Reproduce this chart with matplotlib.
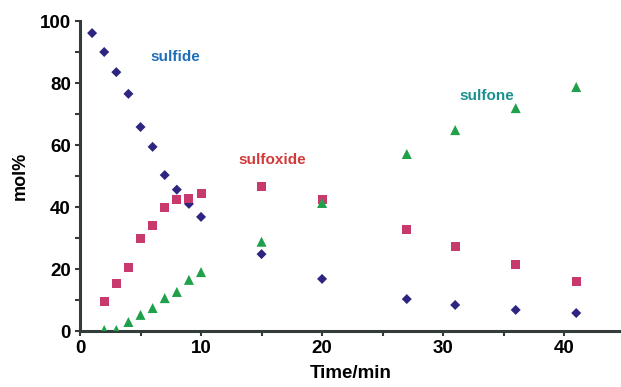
import matplotlib
matplotlib.use("Agg")
import matplotlib.pyplot as plt
from matplotlib.ticker import MultipleLocator

plt.rcParams['font.family'] = ['Liberation Sans', 'DejaVu Sans']

t_sulfide = [1, 2, 3, 4, 5, 6, 7, 8, 9, 10, 15, 20, 27, 31, 36, 41]
sulfide = [96.1, 90.0, 83.5, 76.5, 65.8, 59.4, 50.3, 45.6, 41.0, 36.8, 24.8, 16.8, 10.3, 8.4, 6.8, 5.8]

t_sulfoxide = [2, 3, 4, 5, 6, 7, 8, 9, 10, 15, 20, 27, 31, 36, 41]
sulfoxide = [9.4, 15.2, 20.6, 29.7, 33.9, 39.7, 42.3, 42.9, 44.5, 46.5, 42.3, 32.9, 27.1, 21.3, 16.1]

t_sulfone = [2, 3, 4, 5, 6, 7, 8, 9, 10, 15, 20, 27, 31, 36, 41]
sulfone = [0.3, 0.3, 2.9, 5.2, 7.4, 10.6, 12.6, 16.5, 19.0, 28.8, 41.3, 57.1, 64.8, 71.9, 78.7]

fig = plt.figure(figsize=(6.21, 3.87), dpi=100)
ax = fig.add_axes([80/621, 56/387, 541/621, 310/387])

ax.scatter(t_sulfide, sulfide, marker='D', s=26, color='#2e2580', edgecolors='none', zorder=3)
ax.scatter(t_sulfoxide, sulfoxide, marker='s', s=42, color='#c83a6e', edgecolors='none', zorder=3)
ax.scatter(t_sulfone, sulfone, marker='^', s=52, color='#1fa04a', edgecolors='none', zorder=3)

ax.text(7.85, 88.4, 'sulfide', color='#1f6fb8', fontsize=11, fontweight='bold', ha='center', va='center')
ax.text(15.9, 55.2, 'sulfoxide', color='#d23a3a', fontsize=11, fontweight='bold', ha='center', va='center')
ax.text(33.6, 75.8, 'sulfone', color='#1a9090', fontsize=11, fontweight='bold', ha='center', va='center')

ax.set_xlim(0, 44.7)
ax.set_ylim(0, 100)
ax.xaxis.set_major_locator(MultipleLocator(10))
ax.xaxis.set_minor_locator(MultipleLocator(5))
ax.yaxis.set_major_locator(MultipleLocator(20))
ax.yaxis.set_minor_locator(MultipleLocator(10))

for s in ['top', 'right']:
    ax.spines[s].set_visible(False)
for s in ['left', 'bottom']:
    ax.spines[s].set_linewidth(2.2)
    ax.spines[s].set_color('#333b3b')

ax.tick_params(which='both', direction='out', length=3.5, width=1.5, color='#333b3b')
ax.tick_params(which='major', labelsize=13.5, pad=3)
for lbl in ax.get_xticklabels() + ax.get_yticklabels():
    lbl.set_fontweight('bold')

ax.set_xlabel('Time/min', fontsize=13.5, fontweight='bold', labelpad=6)
ax.set_ylabel('mol%', fontsize=13, fontweight='bold', labelpad=8)

fig.savefig('out.png', dpi=100)
